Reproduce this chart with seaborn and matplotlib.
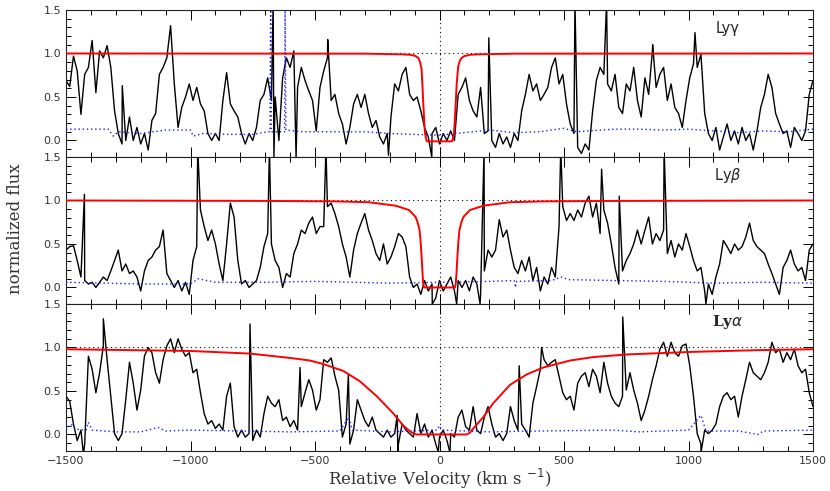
import numpy as np
import matplotlib
matplotlib.use("Agg")
import matplotlib.pyplot as plt
import seaborn as sns
from matplotlib.ticker import MultipleLocator

# ── spectra: flux sampled every 15 km/s, in three pieces per panel ────────────
STEP = 15
SEG_STARTS = [-1500, -465, 525]

lyg_a = [0.69, 0.62, 0.97, 0.80, 0.30, 0.76, 0.84, 1.15, 0.55, 1.03, 0.95, 1.09, 0.84, 0.34,
         0.08, -0.04, 0.00, 0.27, 0.00, 0.15, -0.04, 0.08, -0.11, 0.23, 0.31, 0.76, 0.84, 0.95,
         1.32, 0.65, 0.15, 0.38, 0.50, 0.65, 0.46, 0.61, 0.42, 0.34, 0.08, 0.00, 0.08, 0.00,
         0.46, 0.78, 0.42, 0.34, 0.27, 0.08, -0.04, 0.08, 0.00, 0.15, 0.46, 0.53, 0.72, 0.46,
         0.50, 0.00, 0.72, 0.95, 0.84, 1.03, 0.61, 0.84, 0.69, 0.57, 0.46, 0.11, 0.61]
lyg_b = [0.80, 0.95, 0.46, 0.53, 0.31, 0.19, -0.04, 0.15, 0.42, 0.53, 0.38, 0.53, 0.31, 0.15,
         0.23, 0.04, -0.04, 0.08, 0.27, 0.65, 0.57, 0.76, 0.84, 0.53, 0.46, 0.50, 0.34, 0.15,
         0.04, 0.08, 0.15, -0.04, 0.08, 0.00, 0.11, 0.00, 0.53, 0.61, 0.72, 0.46, 0.34, 0.27,
         0.61, 0.08, 0.11, 0.00, -0.08, 0.08, -0.04, 0.04, -0.08, 0.08, 0.00, 0.34, 0.53, 0.76,
         0.57, 0.65, 0.46, 0.53, 0.61, 0.84, 0.95, 0.65, 0.76, 0.42]
lyg_c = [0.19, 0.08, -0.08, -0.15, -0.04, -0.11, 0.34, 0.69, 0.84, 0.76, 0.65, 0.57, 0.76, 0.38,
         0.31, 0.65, 0.57, 0.84, 0.46, 0.27, 0.72, 0.53, 1.03, 0.61, 0.76, 0.84, 0.46, 0.65,
         0.38, 0.31, 0.15, 0.46, 0.72, 0.88, 0.84, 0.99, 0.31, 0.08, 0.00, 0.15, -0.11, 0.04,
         0.19, 0.00, 0.11, -0.04, 0.15, 0.00, 0.08, -0.11, 0.11, 0.38, 0.53, 0.76, 0.61, 0.31,
         0.19, 0.08, 0.11, -0.08, 0.15, 0.08, 0.00, 0.11, 0.53, 0.69]
lyg_spike_v = [-1274, -668, -665, -576, -449, -205, -31, 198, 544, 671, 856, 1026]
lyg_spike_f = [0.63, 1.60, -0.20, -0.20, 1.16, -0.17, -0.19, 1.18, 1.60, 1.60, 1.10, 1.24]

lyb_a = [0.43, 0.47, 0.48, 0.31, 0.12, 0.08, 0.04, 0.06, 0.00, 0.06, 0.12, 0.08, 0.19, 0.31,
         0.43, 0.19, 0.27, 0.16, 0.19, 0.12, -0.04, 0.19, 0.31, 0.35, 0.43, 0.47, 0.66, 0.16,
         0.08, 0.00, 0.08, -0.04, 0.06, -0.08, 0.31, 0.47, 0.89, 0.70, 0.54, 0.66, 0.50, 0.27,
         0.08, 0.50, 0.97, 0.81, 0.31, 0.04, 0.08, 0.00, 0.04, 0.08, 0.23, 0.47, 0.62, 0.50,
         0.31, 0.23, 0.00, 0.16, 0.12, 0.39, 0.50, 0.66, 0.62, 0.74, 0.81, 0.62, 0.70]
lyb_b = [0.70, 0.93, 0.97, 0.85, 0.70, 0.50, 0.35, 0.12, 0.43, 0.62, 0.74, 0.85, 0.66, 0.54,
         0.39, 0.31, 0.50, 0.27, 0.35, 0.47, 0.62, 0.58, 0.47, 0.12, 0.00, 0.04, -0.08, 0.08,
         -0.04, 0.04, -0.12, 0.08, -0.04, 0.04, 0.12, -0.04, 0.08, 0.00, 0.08, -0.04, 0.12, 0.04,
         -0.08, 0.19, 0.43, 0.35, 0.43, 0.78, 0.58, 0.66, 0.43, 0.23, 0.16, 0.31, 0.19, 0.35,
         0.08, 0.23, -0.04, 0.12, 0.04, 0.23, 0.12, 0.70, 0.93, 0.77]
lyb_c = [0.85, 0.77, 0.89, 0.81, 0.97, 1.05, 0.81, 0.97, 0.62, 0.89, 0.74, 0.50, 0.23, 0.04,
         0.19, 0.31, 0.39, 0.50, 0.66, 0.50, 0.66, 0.81, 0.50, 0.62, 0.54, 0.66, 0.39, 0.54,
         0.35, 0.50, 0.43, 0.62, 0.47, 0.31, 0.19, 0.23, -0.04, 0.04, -0.08, 0.12, 0.27, 0.54,
         0.47, 0.39, 0.50, 0.43, 0.47, 0.58, 0.74, 0.54, 0.47, 0.43, 0.39, 0.27, 0.16, 0.04,
         -0.08, 0.23, 0.31, 0.43, 0.27, 0.19, 0.23, 0.08, 0.43, 0.50]
lyb_spike_v = [-1426, -971, -683, -456, -29, 69, 163, 179, 487, 651, 722, 902, 1070]
lyb_spike_f = [1.07, 1.60, 1.60, 1.60, -0.19, -0.19, -0.19, 1.60, 1.60, 1.36, 1.05, 1.60, -0.19]

lya_a = [0.44, 0.38, 0.12, -0.07, 0.05, -0.11, 0.90, 0.75, 0.48, 0.71, 1.02, 0.86, 0.44, 0.01,
         -0.07, 0.01, 0.40, 0.83, 0.59, 0.28, 0.51, 0.90, 1.00, 0.94, 0.71, 0.59, 0.86, 1.02,
         1.10, 0.94, 1.10, 0.98, 0.90, 0.94, 0.71, 0.75, 0.48, 0.24, 0.12, 0.16, 0.07, 0.12,
         0.05, 0.44, 0.59, 0.09, -0.03, 0.05, -0.03, 0.01, -0.07, 0.05, -0.03, 0.24, 0.44, 0.36,
         0.32, 0.40, 0.16, 0.20, 0.09, 0.16, 0.05, 0.32, 0.48, 0.63, 0.51, 0.28, 0.40]
lya_b = [0.86, 0.83, 0.88, 0.67, 0.51, -0.03, 0.12, -0.11, 0.05, 0.40, 0.28, 0.16, 0.09, 0.20,
         0.05, 0.01, -0.03, 0.05, -0.03, 0.01, -0.11, 0.12, 0.05, 0.01, -0.03, 0.24, 0.01, 0.12,
         -0.03, 0.05, -0.11, -0.03, 0.05, -0.07, 0.01, -0.03, 0.20, 0.28, 0.09, 0.05, 0.32, 0.05,
         0.01, 0.20, 0.32, 0.12, -0.03, 0.01, -0.07, 0.01, 0.32, 0.16, 0.05, 0.12, 0.05, -0.03,
         0.36, 0.55, 0.75, 0.86, 0.79, 0.83, 0.86, 0.67, 0.48, 0.40]
lya_c = [0.44, 0.28, 0.59, 0.67, 0.71, 0.55, 0.75, 0.67, 0.48, 0.83, 0.59, 0.44, 0.36, 0.32,
         0.44, 0.51, 0.71, 0.51, 0.36, 0.16, 0.28, 0.44, 0.63, 0.79, 0.98, 1.06, 0.90, 1.06,
         0.94, 0.90, 1.02, 1.04, 0.79, 0.44, 0.01, -0.11, 0.05, 0.01, 0.05, 0.12, 0.32, 0.44,
         0.48, 0.40, 0.44, 0.20, 0.44, 0.63, 0.83, 0.71, 0.67, 0.63, 0.71, 0.83, 1.06, 0.94,
         0.98, 0.83, 0.94, 0.86, 0.98, 0.79, 0.71, 0.75, 0.48, 0.32]
lya_spike_v = [-1430, -1350, -761, -560, -366, -170, -167, -5, 42, 320, 410, 736, 1050]
lya_spike_f = [-0.23, 1.33, 1.27, 0.77, 0.69, 0.22, -0.23, -0.20, -0.21, 0.79, 1.00, 1.35, -0.21]

# ── 1-sigma error arrays ──────────────────────────────────────────────────────
lyg_err_v = [-1500, -1400, -1330, -1310, -1290, -1200, -1100, -1000, -989, -950, -850, -750,
             -690, -681, -678, -675, -625, -622, -620, -617, -550, -450, -300, -200, -100, 0,
             100, 200, 300, 400, 500, 550, 600, 700, 800, 900, 1000, 1100, 1200, 1300, 1400, 1500]
lyg_err_f = [0.13, 0.13, 0.13, 0.05, 0.10, 0.08, 0.12, 0.12, 0.05, 0.08, 0.07, 0.07,
             0.10, 0.10, 1.60, 0.10, 0.10, 0.10, 1.60, 0.12, 0.10, 0.10, 0.10, 0.08, 0.07, 0.06,
             0.09, 0.12, 0.09, 0.10, 0.14, 0.10, 0.11, 0.13, 0.13, 0.12, 0.13, 0.11, 0.09, 0.11, 0.10, 0.13]
lyb_err_v = [-1500, -1200, -1000, -970, -900, -700, -500, -200, 0, 200, 300, 305, 310, 450, 490,
             520, 700, 900, 1100, 1300, 1500]
lyb_err_f = [0.06, 0.04, 0.04, 0.10, 0.06, 0.06, 0.07, 0.05, 0.06, 0.07, 0.08, 0.00, 0.07, 0.08,
             0.12, 0.09, 0.08, 0.07, 0.05, 0.06, 0.05]
lya_err_v = [-1500, -1480, -1460, -1420, -1410, -1395, -1300, -1200, -1130, -1100, -1000, -800,
             -600, -400, -365, -350, -200, -10, 0, 10, 200, 400, 700, 800, 1000, 1050, 1070, 1200,
             1280, 1300, 1500]
lya_err_f = [0.05, 0.12, 0.06, 0.05, 0.14, 0.05, 0.03, 0.03, 0.08, 0.04, 0.05, 0.04,
             0.03, 0.04, 0.20, 0.05, 0.03, 0.05, 0.10, 0.05, 0.03, 0.04, 0.05, 0.03, 0.05, 0.22, 0.04, 0.04,
             0.00, 0.04, 0.05]

# ── fitted damped profiles ────────────────────────────────────────────────────
lyg_fit_v = [-1500, -300, -150, -118, -100, -85, -78, -72, -68, -65, -61, -58, -54, -50,
             50, 54, 58, 61, 65, 69, 75, 82, 89, 100, 122, 150, 300, 1500]
lyg_fit_f = [1.0, 0.998, 0.99, 0.985, 0.975, 0.95, 0.9, 0.82, 0.6, 0.42, 0.2, 0.08, 0.02, -0.01,
             -0.01, 0.02, 0.08, 0.2, 0.42, 0.65, 0.85, 0.92, 0.95, 0.97, 0.985, 0.99, 0.998, 1.0]
lyb_fit_v = [-1500, -700, -417, -283, -176, -122, -96, -88, -80, -75, -71, -68, -65, -62,
             62, 65, 68, 71, 75, 80, 88, 96, 122, 176, 283, 417, 700, 1500]
lyb_fit_f = [1.0, 0.995, 0.99, 0.98, 0.94, 0.89, 0.81, 0.75, 0.66, 0.5, 0.31, 0.15, 0.04, 0.0,
             0.0, 0.04, 0.15, 0.31, 0.5, 0.66, 0.75, 0.81, 0.89, 0.94, 0.98, 0.99, 0.995, 1.0]
lya_fit_v = [-1500, -1000, -761, -600, -520, -467, -386, -319, -252, -185, -145, -120, -105, -92,
             109, 122, 136, 176, 216, 283, 350, 417, 524, 618, 752, 1019, 1287, 1500]
lya_fit_f = [0.98, 0.96, 0.93, 0.88, 0.85, 0.81, 0.73, 0.61, 0.44, 0.24, 0.1, 0.04, 0.01, 0.0,
             0.0, 0.02, 0.07, 0.2, 0.36, 0.57, 0.69, 0.77, 0.85, 0.89, 0.92, 0.95, 0.97, 0.98]

LABELS = ["Ly\u03b3", "Ly$\\beta$", "Ly$\\alpha$"]
TICKS = [-1500, -1000, -500, 0, 500, 1000, 1500]


def build(segs, spike_v, spike_f):
    v = np.concatenate([start + STEP * np.arange(len(s)) for start, s in zip(SEG_STARTS, segs)]
                       + [np.array(spike_v, float)])
    f = np.concatenate([np.array(s, float) for s in segs] + [np.array(spike_f, float)])
    order = np.argsort(v, kind="stable")
    return v[order], f[order]


panels = [
    (build([lyg_a, lyg_b, lyg_c], lyg_spike_v, lyg_spike_f), (lyg_err_v, lyg_err_f), (lyg_fit_v, lyg_fit_f)),
    (build([lyb_a, lyb_b, lyb_c], lyb_spike_v, lyb_spike_f), (lyb_err_v, lyb_err_f), (lyb_fit_v, lyb_fit_f)),
    (build([lya_a, lya_b, lya_c], lya_spike_v, lya_spike_f), (lya_err_v, lya_err_f), (lya_fit_v, lya_fit_f)),
]

sns.set_style("ticks")
plt.rcParams["font.family"] = ["DejaVu Sans"]

fig = plt.figure(figsize=(8.3, 4.91), dpi=100)
left, right, top, bottom = 66 / 830, 813 / 830, 1 - 10 / 491, 1 - 451 / 491
h = (top - bottom) / 3

for i, ((sv, sf), (ev, ef), (mv, mf)) in enumerate(panels):
    ax = fig.add_axes([left, top - (i + 1) * h, right - left, h])
    ax.axhline(1.0, color="black", lw=0.8, ls=(0, (1, 3)), zorder=1)
    ax.axvline(0.0, color="black", lw=0.8, ls=(0, (1, 3)), zorder=1)
    sns.lineplot(x=sv, y=sf, ax=ax, color="black", lw=1.0, estimator=None, sort=False, zorder=2)
    sns.lineplot(x=ev, y=ef, ax=ax, color="#1a1aff", lw=1.0, ls=(0, (1, 2)),
                 estimator=None, sort=False, zorder=3)
    sns.lineplot(x=mv, y=mf, ax=ax, color="#ff0000", lw=1.4, estimator=None, sort=False, zorder=4)

    ax.set_xlim(-1500, 1500)
    ax.set_ylim(-0.19, 1.5)
    ax.set_yticks([0.0, 0.5, 1.0, 1.5])
    ax.yaxis.set_minor_locator(MultipleLocator(0.1))
    ax.set_xticks(TICKS)
    ax.xaxis.set_minor_locator(MultipleLocator(100))
    ax.tick_params(which="both", direction="in", top=True, right=True, colors="black",
                   labelsize=8, width=0.7)
    ax.tick_params(which="major", length=7)
    ax.tick_params(which="minor", length=3.5)
    ax.set_yticklabels(["0.0", "0.5", "1.0", "1.5"], color="#333333")
    if i < 2:
        ax.set_xticklabels([])
    else:
        ax.set_xticklabels(["\u22121500", "\u22121000", "\u2212500", "0", "500", "1000", "1500"],
                           color="#333333")
    for s in ax.spines.values():
        s.set_linewidth(0.8)
        s.set_color("#222222")
    ax.set_xlabel("")
    ax.set_ylabel("")

    if i == 2:
        ax.text(0.886, 0.877, LABELS[i], transform=ax.transAxes, ha="center", va="center",
                fontsize=11, fontweight="bold", family="DejaVu Serif")
    else:
        ax.text(0.886, 0.877, LABELS[i], transform=ax.transAxes, ha="center", va="center",
                fontsize=10.5)

fig.text(0.019, 0.535, "normalized flux", rotation=90, ha="center", va="center",
         fontsize=12, family="DejaVu Serif", color="#333333")
fig.text(0.53, 0.025, "Relative Velocity (km s $^{-1}$)", ha="center", va="center",
         fontsize=12, family="DejaVu Serif", color="#333333")

fig.savefig("out.png", dpi=100)
